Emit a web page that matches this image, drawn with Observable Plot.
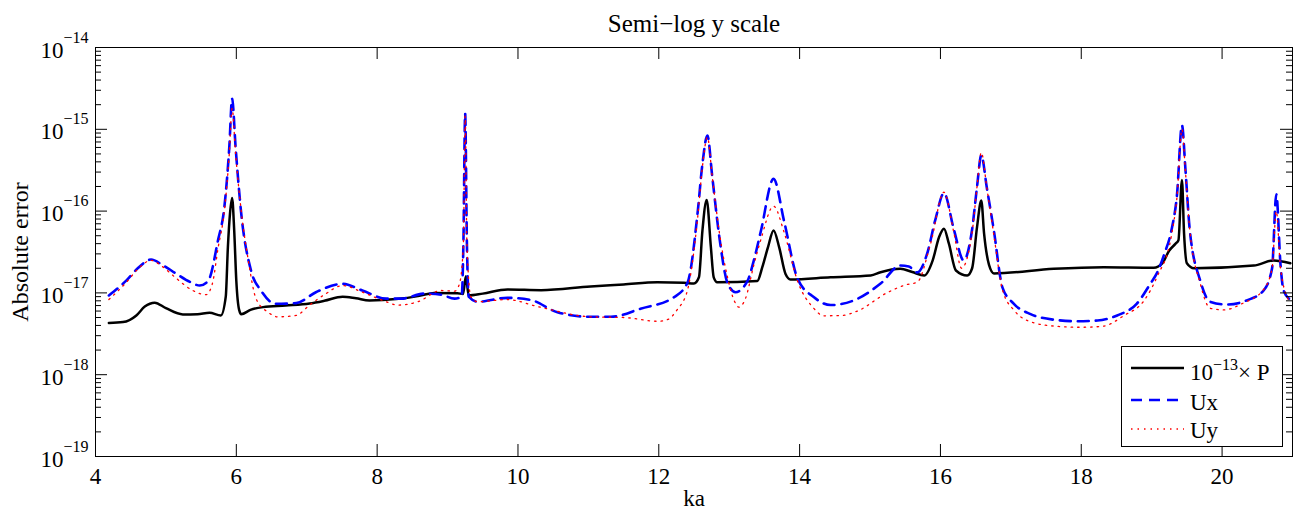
<!DOCTYPE html>
<html>
<head>
<meta charset="utf-8">
<script src="https://cdn.jsdelivr.net/npm/d3@7"></script>
<script src="https://cdn.jsdelivr.net/npm/@observablehq/plot@0.6"></script>
<style>
  html, body { margin: 0; padding: 0; background: #fff; }
  #wrap { position: relative; width: 1297px; height: 515px; font-family: "Liberation Serif", "Times New Roman", serif; }
  #legend { position: absolute; left: 1121px; top: 346px; width: 162px; height: 101px; }
</style>
</head>
<body>
<div id="wrap"><div id="legend"></div></div>
<script>
// ---- data ----
const xTicks = [4, 6, 8, 10, 12, 14, 16, 18, 20];
const yDecades = [1e-19, 1e-18, 1e-17, 1e-16, 1e-15, 1e-14];
const yExponents = ["\u221219", "\u221218", "\u221217", "\u221216", "\u221215", "\u221214"];
const minorMultipliers = [2, 3, 4, 5, 6, 7, 8, 9];
const seriesNames = ["10\u207B\u00B9\u00B3\u00D7 P", "Ux", "Uy"];

// 10^-13 x P  (ka, absolute error)
const pressure = [[4.19,4.3e-18],[4.39,4.4e-18],[4.58,5.3e-18],[4.70,6.8e-18],[4.84,7.6e-18],[5.00,6.5e-18],[5.24,5.45e-18],[5.45,5.5e-18],[5.62,5.7e-18],[5.78,5.3e-18],[5.85,9e-18],[5.88,3.6e-17],[5.91,9.3e-17],[5.94,1.45e-16],[5.97,5.8e-17],[6.00,1.4e-17],[6.04,6.2e-18],[6.07,5.5e-18],[6.20,6.2e-18],[6.38,6.7e-18],[6.70,7.0e-18],[7.04,7.4e-18],[7.25,8.0e-18],[7.51,9.0e-18],[7.70,8.6e-18],[7.89,8.1e-18],[8.27,8.4e-18],[8.60,9.2e-18],[8.81,1.0e-17],[9.14,9.9e-18],[9.22,9.7e-18],[9.26,1.6e-17],[9.30,9.3e-18],[9.50,9.8e-18],[9.85,1.1e-17],[10.33,1.08e-17],[11.03,1.2e-17],[11.50,1.27e-17],[11.98,1.35e-17],[12.36,1.33e-17],[12.50,1.3e-17],[12.57,1.55e-17],[12.62,5.8e-17],[12.68,1.37e-16],[12.74,3.6e-17],[12.78,1.55e-17],[12.83,1.35e-17],[13.40,1.4e-17],[13.47,2.06e-17],[13.55,3.6e-17],[13.63,5.8e-17],[13.71,3.6e-17],[13.80,1.7e-17],[13.87,1.46e-17],[14.44,1.55e-17],[15.01,1.63e-17],[15.15,1.79e-17],[15.43,1.97e-17],[15.60,1.8e-17],[15.77,1.63e-17],[15.89,2.5e-17],[15.98,4.8e-17],[16.05,6.1e-17],[16.12,4e-17],[16.22,1.88e-17],[16.38,1.63e-17],[16.45,2.0e-17],[16.52,6.4e-17],[16.58,1.35e-16],[16.62,5.3e-17],[16.69,2.2e-17],[16.76,1.73e-17],[17.61,1.97e-17],[18.32,2.06e-17],[19.03,2.03e-17],[19.15,2.3e-17],[19.25,3.3e-17],[19.34,4.0e-17],[19.38,4.4e-17],[19.43,2.4e-16],[19.46,5.3e-17],[19.50,2.3e-17],[19.60,2.0e-17],[20.45,2.16e-17],[20.73,2.49e-17],[20.97,2.3e-17]];

// Ux
const ux = [[4.19,9.3e-18],[4.44,1.42e-17],[4.60,2.0e-17],[4.79,2.56e-17],[4.95,2.2e-17],[5.15,1.71e-17],[5.35,1.35e-17],[5.48,1.23e-17],[5.60,1.4e-17],[5.74,4.4e-17],[5.83,1.12e-16],[5.90,6e-16],[5.94,2.36e-15],[5.99,6e-16],[6.07,9.3e-17],[6.21,1.86e-17],[6.35,1.07e-17],[6.56,7.36e-18],[6.85,7.5e-18],[7.13,1.02e-17],[7.51,1.29e-17],[7.79,1.07e-17],[8.13,8.5e-18],[8.34,8.5e-18],[8.67,9.8e-18],[8.91,9.5e-18],[9.10,8.5e-18],[9.20,9e-18],[9.225,4e-17],[9.25,1.55e-15],[9.275,4e-17],[9.30,9e-18],[9.43,7.8e-18],[9.85,8.7e-18],[10.18,8.2e-18],[10.56,5.8e-18],[11.03,5.1e-18],[11.32,5.1e-18],[11.74,6.4e-18],[12.22,8.9e-18],[12.41,1.35e-17],[12.55,9.3e-17],[12.62,3.8e-16],[12.69,8.4e-16],[12.76,2.6e-16],[12.86,4.8e-17],[12.98,1.29e-17],[13.09,1.02e-17],[13.26,1.4e-17],[13.35,2.5e-17],[13.45,5.7e-17],[13.63,2.48e-16],[13.78,7.5e-17],[13.97,1.5e-17],[14.20,8.9e-18],[14.44,7.1e-18],[14.77,8.1e-18],[15.15,1.3e-17],[15.43,2.16e-17],[15.55,2.1e-17],[15.67,1.78e-17],[15.81,3e-17],[15.93,8e-17],[16.05,1.66e-16],[16.19,6e-17],[16.33,2.5e-17],[16.45,6e-17],[16.52,2e-16],[16.58,4.8e-16],[16.66,1.9e-16],[16.76,5.7e-17],[16.88,1.17e-17],[17.04,7.4e-18],[17.28,5.5e-18],[17.61,4.7e-18],[17.94,4.5e-18],[18.23,4.6e-18],[18.51,5.3e-18],[18.79,7.4e-18],[18.98,1.29e-17],[19.08,1.78e-17],[19.18,3e-17],[19.28,5.8e-17],[19.36,1.6e-16],[19.43,1.12e-15],[19.48,3.2e-16],[19.54,6e-17],[19.69,1.41e-17],[19.83,7.8e-18],[20.07,7.2e-18],[20.35,8.1e-18],[20.59,1.07e-17],[20.71,2e-17],[20.77,1.6e-16],[20.83,2.2e-17],[20.87,1.1e-17],[20.95,8.5e-18]];

// Uy
const uy = [[4.19,8.3e-18],[4.44,1.35e-17],[4.60,1.95e-17],[4.79,2.5e-17],[4.95,2.1e-17],[5.15,1.5e-17],[5.38,1.07e-17],[5.57,9.5e-18],[5.66,1.3e-17],[5.74,3.5e-17],[5.83,1e-16],[5.90,5e-16],[5.94,1.8e-15],[5.99,5e-16],[6.07,1e-16],[6.17,2.5e-17],[6.28,8.5e-18],[6.45,5.8e-18],[6.59,5.1e-18],[6.85,5.3e-18],[7.04,7.1e-18],[7.25,9.5e-18],[7.51,1.23e-17],[7.79,1.02e-17],[8.13,7.8e-18],[8.29,7.1e-18],[8.58,7.8e-18],[8.91,1.07e-17],[9.10,1.05e-17],[9.17,1.3e-17],[9.225,4e-17],[9.25,1.45e-15],[9.275,4e-17],[9.33,9e-18],[9.43,7.8e-18],[9.85,8.3e-18],[10.28,6.8e-18],[11.03,5.1e-18],[11.51,5e-18],[11.98,4.5e-18],[12.12,4.7e-18],[12.26,6.2e-18],[12.41,1.1e-17],[12.55,8e-17],[12.62,3.5e-16],[12.69,8e-16],[12.76,2.6e-16],[12.86,5.5e-17],[12.98,1.5e-17],[13.05,9e-18],[13.14,6.7e-18],[13.23,8.5e-18],[13.35,2.2e-17],[13.45,4.5e-17],[13.63,1.15e-16],[13.78,5.5e-17],[13.97,1.4e-17],[14.20,6.5e-18],[14.34,5.25e-18],[14.60,5.3e-18],[14.82,6e-18],[15.24,1e-17],[15.50,1.25e-17],[15.67,1.35e-17],[15.86,4e-17],[16.05,1.7e-16],[16.19,5.5e-17],[16.30,2e-17],[16.45,5.5e-17],[16.52,2e-16],[16.58,5.2e-16],[16.66,1.9e-16],[16.76,5e-17],[16.88,1.1e-17],[17.04,6.2e-18],[17.33,4.3e-18],[17.66,3.9e-18],[17.99,3.8e-18],[18.30,3.9e-18],[18.61,5.3e-18],[18.89,8e-18],[19.08,1.6e-17],[19.28,5e-17],[19.36,1.5e-16],[19.43,1e-15],[19.48,3e-16],[19.54,6e-17],[19.69,1.3e-17],[19.83,6.5e-18],[20.02,6.2e-18],[20.30,7.5e-18],[20.59,1.1e-17],[20.71,2e-17],[20.77,1e-16],[20.83,2e-17],[20.95,8e-18]];

// ---- layout ----
const width = 1297, height = 515;
const margin = {top: 47, right: 5, bottom: 59, left: 95};
const innerW = width - margin.left - margin.right;
const innerH = height - margin.top - margin.bottom;
const minorTicks = yDecades.slice(0, -1).flatMap(d => minorMultipliers.map(m => m * d));
const font = "Liberation Serif";

const chart = Plot.plot({
  width, height,
  marginTop: margin.top, marginRight: margin.right, marginBottom: margin.bottom, marginLeft: margin.left,
  x: {domain: [4, 21], axis: null},
  y: {type: "log", domain: [1e-19, 1e-14], axis: null},
  style: {fontFamily: font, fontSize: "23px", background: "white", color: "black", overflow: "visible"},
  marks: [
    Plot.line(pressure, {x: d => d[0], y: d => d[1], stroke: "black", strokeWidth: 2.5, curve: "monotone-x"}),
    Plot.line(ux, {x: d => d[0], y: d => d[1], stroke: "#0000ff", strokeWidth: 2.6, strokeDasharray: "11,7", curve: "monotone-x"}),
    Plot.line(uy, {x: d => d[0], y: d => d[1], stroke: "#ff0000", strokeWidth: 1.3, strokeDasharray: "1.5,5", curve: "monotone-x"}),
    Plot.frame({stroke: "black", strokeWidth: 1}),
    Plot.tickY(yDecades, {y: d => d, stroke: "black", insetRight: innerW - 12}),
    Plot.tickY(yDecades, {y: d => d, stroke: "black", insetLeft: innerW - 12}),
    Plot.tickY(minorTicks, {y: d => d, stroke: "black", insetRight: innerW - 6}),
    Plot.tickY(minorTicks, {y: d => d, stroke: "black", insetLeft: innerW - 6}),
    Plot.tickX(xTicks, {x: d => d, stroke: "black", insetBottom: innerH - 12}),
    Plot.tickX(xTicks, {x: d => d, stroke: "black", insetTop: innerH - 12}),
    Plot.text(xTicks, {x: d => d, frameAnchor: "bottom", textAnchor: "middle", lineAnchor: "bottom", dy: 27, text: d => String(d), fontSize: 23, fontFamily: font, fill: "black"}),
    Plot.text(yDecades, {y: d => d, frameAnchor: "left", textAnchor: "end", lineAnchor: "bottom", dx: -32, dy: 10, text: () => "10", fontSize: 23, fontFamily: font, fill: "black"}),
    Plot.text(yDecades, {y: d => d, frameAnchor: "left", textAnchor: "start", lineAnchor: "bottom", dx: -32, dy: -5, text: (d, i) => yExponents[i], fontSize: 16, fontFamily: font, fill: "black"}),
    Plot.text(["Semi\u2212log y scale"], {frameAnchor: "top", textAnchor: "middle", lineAnchor: "bottom", dy: -16, text: d => d, fontSize: 25, fontFamily: font, fill: "black"}),
    Plot.text(["ka"], {frameAnchor: "bottom", textAnchor: "middle", lineAnchor: "bottom", dy: 49, text: d => d, fontSize: 23, fontFamily: font, fill: "black"}),
    Plot.text(["Absolute error"], {frameAnchor: "left", textAnchor: "middle", rotate: -90, lineAnchor: "bottom", dx: -68, text: d => d, fontSize: 24, fontFamily: font, fill: "black"})
  ]
});
document.getElementById("wrap").insertBefore(chart, document.getElementById("legend"));
chart.style.position = "absolute";
chart.style.left = "0px";
chart.style.top = "0px";

// ---- legend ----
const leg = d3.select("#legend").append("svg").attr("width", 162).attr("height", 101)
  .style("overflow", "visible");
leg.append("rect").attr("x", 0.5).attr("y", 0.5).attr("width", 161).attr("height", 100)
  .attr("fill", "white").attr("stroke", "black");
const legStyles = [
  {stroke: "black", w: 2.5, dash: null, ly: 22, ty: 34},
  {stroke: "#0000ff", w: 2.6, dash: "11,7", ly: 54, ty: 64},
  {stroke: "#ff0000", w: 1.3, dash: "1.5,5", ly: 83, ty: 92}
];
legStyles.forEach((s, i) => {
  leg.append("line").attr("x1", 10).attr("x2", 63).attr("y1", s.ly).attr("y2", s.ly)
    .attr("stroke", s.stroke).attr("stroke-width", s.w).attr("stroke-dasharray", s.dash);
  const t = leg.append("text").attr("x", 69).attr("y", s.ty).attr("font-size", 23)
    .attr("font-family", font).attr("fill", "black");
  if (i === 0) {
    t.append("tspan").text("10");
    t.append("tspan").attr("font-size", 16).attr("dy", -10).text("\u221213");
    t.append("tspan").attr("dy", 10).text("\u00D7 P");
  } else {
    t.text(seriesNames[i]);
  }
});
</script>
</body>
</html>
